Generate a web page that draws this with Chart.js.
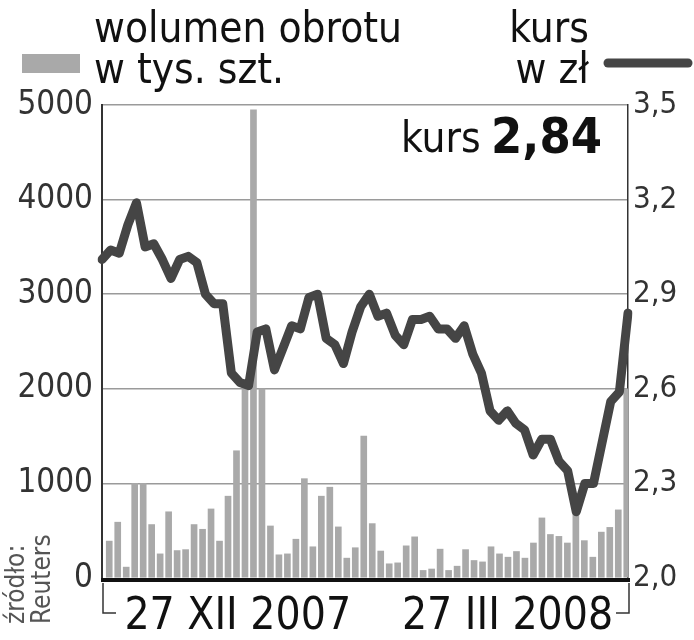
<!DOCTYPE html>
<html>
<head>
<meta charset="utf-8">
<script src="https://cdn.jsdelivr.net/npm/chart.js@4.4.1/dist/chart.umd.min.js"></script>
<style>
  html, body { margin: 0; padding: 0; background: #fff; }
  #wrap { width: 694px; height: 640px; }
</style>
</head>
<body>
<div id="wrap"><canvas id="myChart" width="694" height="640"></canvas></div>
<script>
// volume (thousand shares), one bar per session
const volume = [
  390, 590, 115, 1000, 1000, 565, 255, 700, 290, 300,
  565, 515, 730, 390, 865, 1345, 2100, 4950, 2000, 550,
  245, 255, 410, 1050, 330, 865, 960, 540, 210, 320,
  1500, 575, 285, 150, 160, 340, 435, 80, 95, 305,
  80, 125, 300, 185, 170, 330, 255, 220, 280, 210,
  370, 635, 460, 440, 370, 750, 395, 220, 485, 535,
  720, 2000
];
// share price in zl
const kurs = [
  3.01, 3.04, 3.03, 3.12, 3.19, 3.05, 3.06, 3.01, 2.95, 3.01,
  3.02, 3.00, 2.90, 2.87, 2.87, 2.65, 2.62, 2.61, 2.78, 2.79,
  2.66, 2.73, 2.80, 2.79, 2.89, 2.90, 2.76, 2.74, 2.68, 2.78,
  2.86, 2.90, 2.83, 2.84, 2.77, 2.74, 2.82, 2.82, 2.83, 2.79,
  2.79, 2.76, 2.80, 2.71, 2.65, 2.53, 2.50, 2.53, 2.49, 2.47,
  2.39, 2.44, 2.44, 2.37, 2.34, 2.21, 2.30, 2.30, 2.43, 2.56,
  2.59, 2.84
];
const sessions = volume.map((v, i) => i + 1);
// date labels and the session they sit under
const dateLabels = ['27 XII 2007', '27 III 2008'];
const dateAt = [15.5, 47.3];
const volTicks = [0, 1000, 2000, 3000, 4000, 5000];
const kursTicks = [2.0, 2.3, 2.6, 2.9, 3.2, 3.5];
const lastKurs = '2,84';

const FONT = '"DejaVu Sans Condensed", "Liberation Sans Narrow", sans-serif';

// draws titles, legend keys, bottom axis and dates
const extras = {
  id: 'extras',
  afterDraw(chart) {
    const ctx = chart.ctx;
    const a = chart.chartArea;
    const xs = chart.scales.x;
    ctx.save();
    // bottom axis
    ctx.strokeStyle = '#111';
    ctx.lineWidth = 4;
    ctx.beginPath();
    ctx.moveTo(a.left - 1, a.bottom + 2);
    ctx.lineTo(a.right + 2, a.bottom + 2);
    ctx.stroke();
    // bracket under axis
    ctx.lineWidth = 1.5;
    ctx.strokeStyle = '#333';
    ctx.beginPath();
    ctx.moveTo(a.left + 1, a.bottom + 5);
    ctx.lineTo(a.left + 1, 613);
    ctx.lineTo(a.left + 14, 613);
    ctx.moveTo(a.right - 12, 613);
    ctx.lineTo(a.right + 1, 613);
    ctx.lineTo(a.right + 1, a.bottom + 5);
    ctx.stroke();
    // dates
    ctx.fillStyle = '#111';
    ctx.font = '44px ' + FONT;
    ctx.textAlign = 'center';
    ctx.textBaseline = 'alphabetic';
    dateLabels.forEach((t, i) => {
      ctx.fillText(t, xs.getPixelForValue(dateAt[i]), 629);
    });
    // header left
    ctx.textAlign = 'left';
    ctx.font = '42px ' + FONT;
    ctx.fillText('wolumen obrotu', 94, 42);
    ctx.fillText('w tys. szt.', 94, 83);
    ctx.fillStyle = '#a9a9a9';
    ctx.fillRect(22, 54, 58, 19);
    // header right
    ctx.fillStyle = '#111';
    ctx.textAlign = 'right';
    ctx.fillText('kurs', 589, 42);
    ctx.fillText('w z\u0142', 589, 83);
    ctx.strokeStyle = '#454545';
    ctx.lineWidth = 9;
    ctx.lineCap = 'round';
    ctx.beginPath();
    ctx.moveTo(608, 63);
    ctx.lineTo(688, 63);
    ctx.stroke();
    // current price
    ctx.textAlign = 'left';
    ctx.font = '42px ' + FONT;
    ctx.fillText('kurs', 401, 152);
    ctx.font = 'bold 50px ' + FONT;
    ctx.fillText(lastKurs, 491, 153);
    // source
    ctx.rotate(-Math.PI / 2);
    ctx.fillStyle = '#555';
    ctx.font = '26px ' + FONT;
    ctx.textAlign = 'left';
    ctx.fillText('\u017ar\u00f3d\u0142o:', -624, 24);
    ctx.fillText('Reuters', -624, 50);
    ctx.restore();
  }
};

new Chart(document.getElementById('myChart'), {
  data: {
    labels: sessions,
    datasets: [
      {
        type: 'line',
        label: 'kurs',
        data: kurs,
        xAxisID: 'x2',
        yAxisID: 'y1',
        borderColor: '#454545',
        borderWidth: 9,
        pointRadius: 0,
        tension: 0,
        borderJoinStyle: 'round',
        borderCapStyle: 'round',
        order: 0
      },
      {
        type: 'bar',
        label: 'wolumen',
        data: volume,
        xAxisID: 'x',
        yAxisID: 'y',
        backgroundColor: '#a9a9a9',
        barThickness: 6,
        order: 1
      }
    ]
  },
  options: {
    responsive: false,
    devicePixelRatio: 1,
    animation: false,
    layout: { padding: { top: 105, bottom: 62, left: 0, right: 0 } },
    plugins: { legend: { display: false }, tooltip: { enabled: false } },
    scales: {
      x: {
        type: 'category',
        offset: true,
        display: false
      },
      x2: {
        type: 'category',
        labels: sessions,
        offset: false,
        display: false
      },
      y: {
        position: 'left',
        min: 0,
        max: 5000,
        afterBuildTicks: s => { s.ticks = volTicks.map(v => ({ value: v })); },
        afterFit: s => { s.width = 102; },
        grid: {
          color: c => c.tick.value === 0 ? 'rgba(0,0,0,0)' : '#9a9a9a',
          lineWidth: 1.5,
          drawTicks: false
        },
        border: { display: true, color: '#333', width: 2 },
        ticks: {
          color: '#333',
          padding: 9,
          font: { family: FONT, size: 33 },
          callback: v => String(v)
        }
      },
      y1: {
        position: 'right',
        min: 2.0,
        max: 3.5,
        afterBuildTicks: s => { s.ticks = kursTicks.map(v => ({ value: v })); },
        afterFit: s => { s.width = 66; },
        grid: { drawOnChartArea: false, drawTicks: false },
        border: { display: true, color: '#333', width: 1.5 },
        ticks: {
          color: '#333',
          padding: 5,
          font: { family: FONT, size: 31 },
          callback: v => v.toFixed(1).replace('.', ',')
        }
      }
    }
  },
  plugins: [extras]
});
</script>
</body>
</html>
